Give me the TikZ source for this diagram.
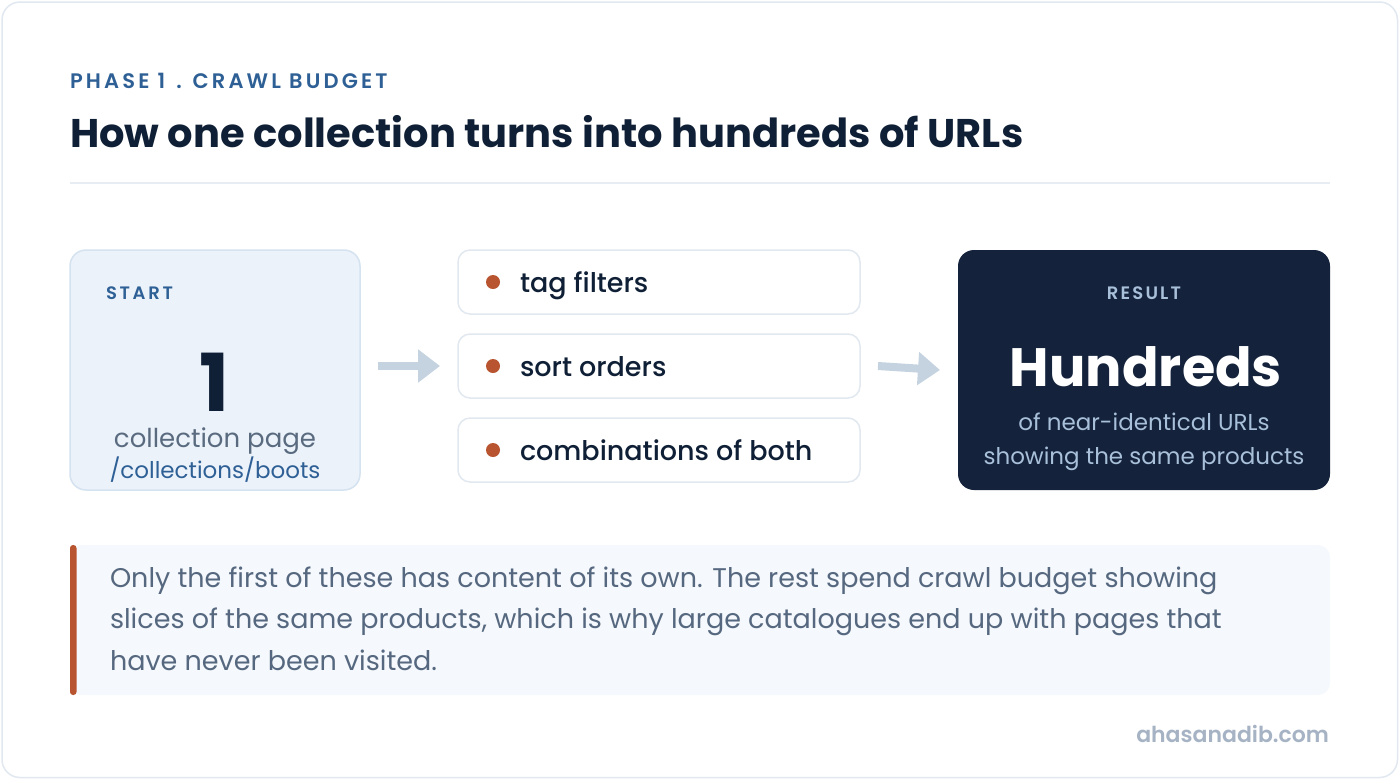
\documentclass[tikz,border=0pt]{standalone}
\usepackage{fontspec}
\setmainfont{Poppins}
\newfontfamily\pmed{Poppins Medium}
\newfontfamily\psemi{Poppins SemiBold}
\usetikzlibrary{arrows.meta}
\definecolor{cardline}{HTML}{E2E8F0}
\definecolor{hdrblue}{HTML}{2E6096}
\definecolor{navy}{HTML}{0F1F35}
\definecolor{divline}{HTML}{E8EDF3}
\definecolor{startfill}{HTML}{EBF2FA}
\definecolor{startline}{HTML}{D5E3F0}
\definecolor{graytxt}{HTML}{5A6B80}
\definecolor{arrowc}{HTML}{C5D3E1}
\definecolor{rust}{HTML}{B85530}
\definecolor{resfill}{HTML}{14233B}
\definecolor{reslight}{HTML}{A9C0DA}
\definecolor{notefill}{HTML}{F5F8FC}
\definecolor{notetxt}{HTML}{56687F}
\definecolor{sitetxt}{HTML}{A6B3C4}
\tikzset{
  txt/.style={inner sep=0pt, outer sep=0pt},
  optbox/.style={draw=cardline, line width=1.5pt, fill=white, rounded corners=12pt,
    minimum width=402pt, minimum height=64pt, anchor=north west, inner sep=0pt, outer sep=0pt},
  bigarrow/.style={draw=arrowc, line width=8pt, -{Triangle[length=22pt,width=32pt]}},
  bullet/.style={circle, fill=rust, minimum size=14pt, inner sep=0pt},
  opttxt/.style={txt, anchor=base west, text=navy, font=\pmed\fontsize{27}{30}\selectfont},
  notetext/.style={txt, anchor=base west, text=notetxt, font=\fontsize{27}{30}\selectfont},
  reslabel/.style={txt, anchor=base, text=reslight, font=\fontsize{23}{26}\selectfont},
}
\begin{document}
\begin{tikzpicture}[x=1pt,y=-1pt]
\useasboundingbox (0,0) rectangle (1400,780);
\fill[white] (0,0) rectangle (1400,780);
\draw[draw=cardline, line width=1.5pt, fill=white, rounded corners=18pt] (2,2) rectangle (1397.5,777.5);

\node[txt, anchor=base west, text=hdrblue, font=\psemi\fontsize{21}{24}\selectfont\addfontfeatures{LetterSpace=15}] (phase) at (70,88) {PHASE 1\hspace{3pt} . CRAWL BUDGET};
\node[txt, anchor=base west, text=navy, font=\bfseries\fontsize{40}{44}\selectfont] (title) at (70,147) {How one collection turns into hundreds of URLs};
\draw[divline, line width=1.5pt] (70,183) -- (1330,183);

% start box
\node[draw=startline, line width=1.5pt, fill=startfill, rounded corners=16pt, minimum width=290pt, minimum height=240pt, anchor=north west, inner sep=0pt, outer sep=0pt] (start) at (70,250) {};
\node[txt, anchor=base west, text=hdrblue, font=\psemi\fontsize{18}{22}\selectfont\addfontfeatures{LetterSpace=15}] (startlbl) at (106,299) {START};
\node[txt, anchor=base, text depth=0pt, text=navy, font=\bfseries\fontsize{80}{90}\selectfont] (one) at (215,411) {1};
\node[txt, anchor=base, text=graytxt, font=\fontsize{26}{28}\selectfont] (collpage) at (215,447) {collection page};
\node[txt, anchor=base, text=hdrblue, font=\fontsize{23}{26}\selectfont] (collpath) at (215,478) {/collections/boots};

% options
\node[optbox] (opt1) at (458,250) {};
\node[optbox] (opt2) at (458,334) {};
\node[optbox] (opt3) at (458,418) {};
\node[bullet] (b1) at (493,282) {};
\node[bullet] (b2) at (493,366) {};
\node[bullet] (b3) at (493,450) {};
\node[opttxt] (t1) at (520,292) {tag filters};
\node[opttxt] (t2) at (520,376) {sort orders};
\node[opttxt] (t3) at (520,460) {combinations of both};

% result box
\node[fill=resfill, rounded corners=16pt, minimum width=372pt, minimum height=240pt, anchor=north west, inner sep=0pt, outer sep=0pt] (result) at (958,250) {};
\node[txt, anchor=base, text=reslight, font=\psemi\fontsize{18}{22}\selectfont\addfontfeatures{LetterSpace=12}] (reslbl) at (1144,299) {RESULT};
\node[txt, anchor=base, text=white, font=\bfseries\fontsize{54}{60}\selectfont] (hundreds) at (1146,386) {Hundreds};
\node[reslabel] (res1) at (1144,430) {of near-identical URLs};
\node[reslabel] (res2) at (1144,464) {showing the same products};

% arrows
\draw[bigarrow] ([xshift=18pt]start.east |- opt2.west) -- ([xshift=-18pt]opt2.west);
\draw[bigarrow] ([xshift=18pt]opt2.east) -- ([xshift=-18pt]result.west);

% note
\node[fill=notefill, rounded corners=12pt, minimum width=1260pt, minimum height=150pt, anchor=north west, inner sep=0pt, outer sep=0pt] (note) at (70,545) {};
\fill[rust, rounded corners=3pt] (70,545) rectangle (76.5,695);
\node[notetext] (n1) at (110,587) {Only the first of these has content of its own. The rest spend crawl budget showing};
\node[notetext] (n2) at (110,628) {slices of the same products, which is why large catalogues end up with pages that};
\node[notetext] (n3) at (110,670) {have never been visited.};

\node[txt, anchor=base east, text=sitetxt, font=\psemi\fontsize{22}{25}\selectfont] (site) at (1329,742) {ahasanadib.com};
\end{tikzpicture}
\end{document}
